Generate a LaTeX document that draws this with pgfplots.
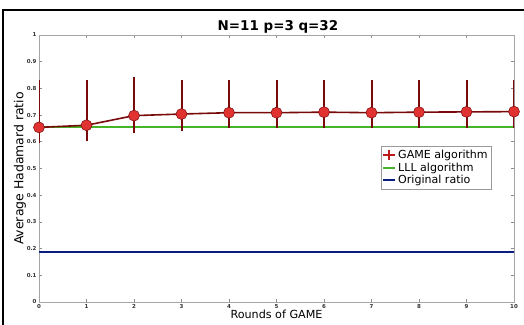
\documentclass[border=0pt]{standalone}
\usepackage{pgfplots}
\pgfplotsset{compat=1.18}
\usepackage{fontspec}
\setmainfont{DejaVu Sans}
\definecolor{darkred}{RGB}{120,10,10}
\definecolor{legred}{RGB}{190,25,25}
\definecolor{markred}{RGB}{225,50,50}
\definecolor{lllgreen}{RGB}{70,180,40}
\definecolor{orignavy}{RGB}{10,30,130}
\pgfplotsset{
  lineleg/.style={legend image code/.code={\draw[##1] (0bp,0bp) -- (12bp,0bp);}},
  gameleg/.style={legend image code/.code={%
    \draw[draw=legred, line width=1.5bp] (0bp,0bp) -- (12bp,0bp);
    \draw[draw=legred, line width=1.5bp] (6bp,-5bp) -- (6bp,5bp);}},
}
\begin{document}
\begin{tikzpicture}
\path[use as bounding box] (0,0) rectangle (524bp,325bp);
\draw[black, line width=1.6bp] (3bp,-5bp) -- (3bp,315bp) -- (530bp,315bp);
\begin{axis}[
  at={(39bp,23bp)}, anchor=origin,
  scale only axis, width=475bp, height=267bp,
  xmin=0, xmax=10, ymin=0, ymax=1,
  xtick={0,...,10}, ytick={0,0.1,...,1.01},
  yticklabels={0,0.1,0.2,0.3,0.4,0.5,0.6,0.7,0.8,0.9,1},
  /pgf/number format/assume math mode=true,
  ticklabel style={font=\bfseries\fontsize{5.5}{6}\selectfont, text=black!80},
  xticklabel style={yshift=1bp},
  yticklabel style={xshift=1bp},
  axis line style={black!35, line width=0.6bp},
  tick style={black!45, line width=0.6bp},
  major tick length=3bp,
  tick align=inside,
  title={\bfseries\fontsize{13.5}{15}\selectfont N=11 p=3 q=32},
  title style={at={(0.503,1)}, yshift=-8bp},
  xlabel={\fontsize{11.2}{12}\selectfont Rounds of GAME},
  ylabel={\fontsize{12.5}{13}\selectfont Average Hadamard ratio},
  xlabel style={yshift=5bp},
  ylabel style={yshift=-6bp},
  legend style={at={(0.72,0.584)}, anchor=north west, draw=black!40,
    font=\fontsize{11.1}{12}\selectfont, inner xsep=1bp, inner ysep=2bp, row sep=-1.5bp,
    cells={anchor=west}, /tikz/every even column/.append style={column sep=-4bp}},
  legend cell align=left,
]
\addplot[lllgreen, line width=2bp, forget plot] coordinates {(0,0.654) (10,0.654)};
\addplot[orignavy, line width=2bp, forget plot] coordinates {(0,0.186) (10,0.186)};
\addplot[darkred, line width=1.6bp, forget plot,
  mark=*, mark size=5.5bp,
  mark options={fill=markred, draw=darkred, line width=0.5bp},
  error bars/.cd, y dir=both, y explicit,
  error bar style={darkred, line width=2bp},
  error mark options={rotate=90, mark size=1bp, darkred, line width=1bp},
  ] coordinates {
  (0,0.654) += (0,0.174) -= (0,0.056)
  (1,0.662) += (0,0.169) -= (0,0.058)
  (2,0.698) += (0,0.143) -= (0,0.063)
  (3,0.704) += (0,0.127) -= (0,0.062)
  (4,0.709) += (0,0.122) -= (0,0.055)
  (5,0.709) += (0,0.122) -= (0,0.056)
  (6,0.711) += (0,0.120) -= (0,0.058)
  (7,0.709) += (0,0.122) -= (0,0.056)
  (8,0.711) += (0,0.120) -= (0,0.058)
  (9,0.712) += (0,0.119) -= (0,0.059)
  (10,0.713) += (0,0.118) -= (0,0.060)
};
\addlegendimage{legred, gameleg}
\addlegendentry{GAME algorithm}
\addlegendimage{lllgreen, line width=2bp, lineleg}
\addlegendentry{LLL algorithm}
\addlegendimage{orignavy, line width=2bp, lineleg}
\addlegendentry{Original ratio}
\end{axis}
\end{tikzpicture}
\end{document}
